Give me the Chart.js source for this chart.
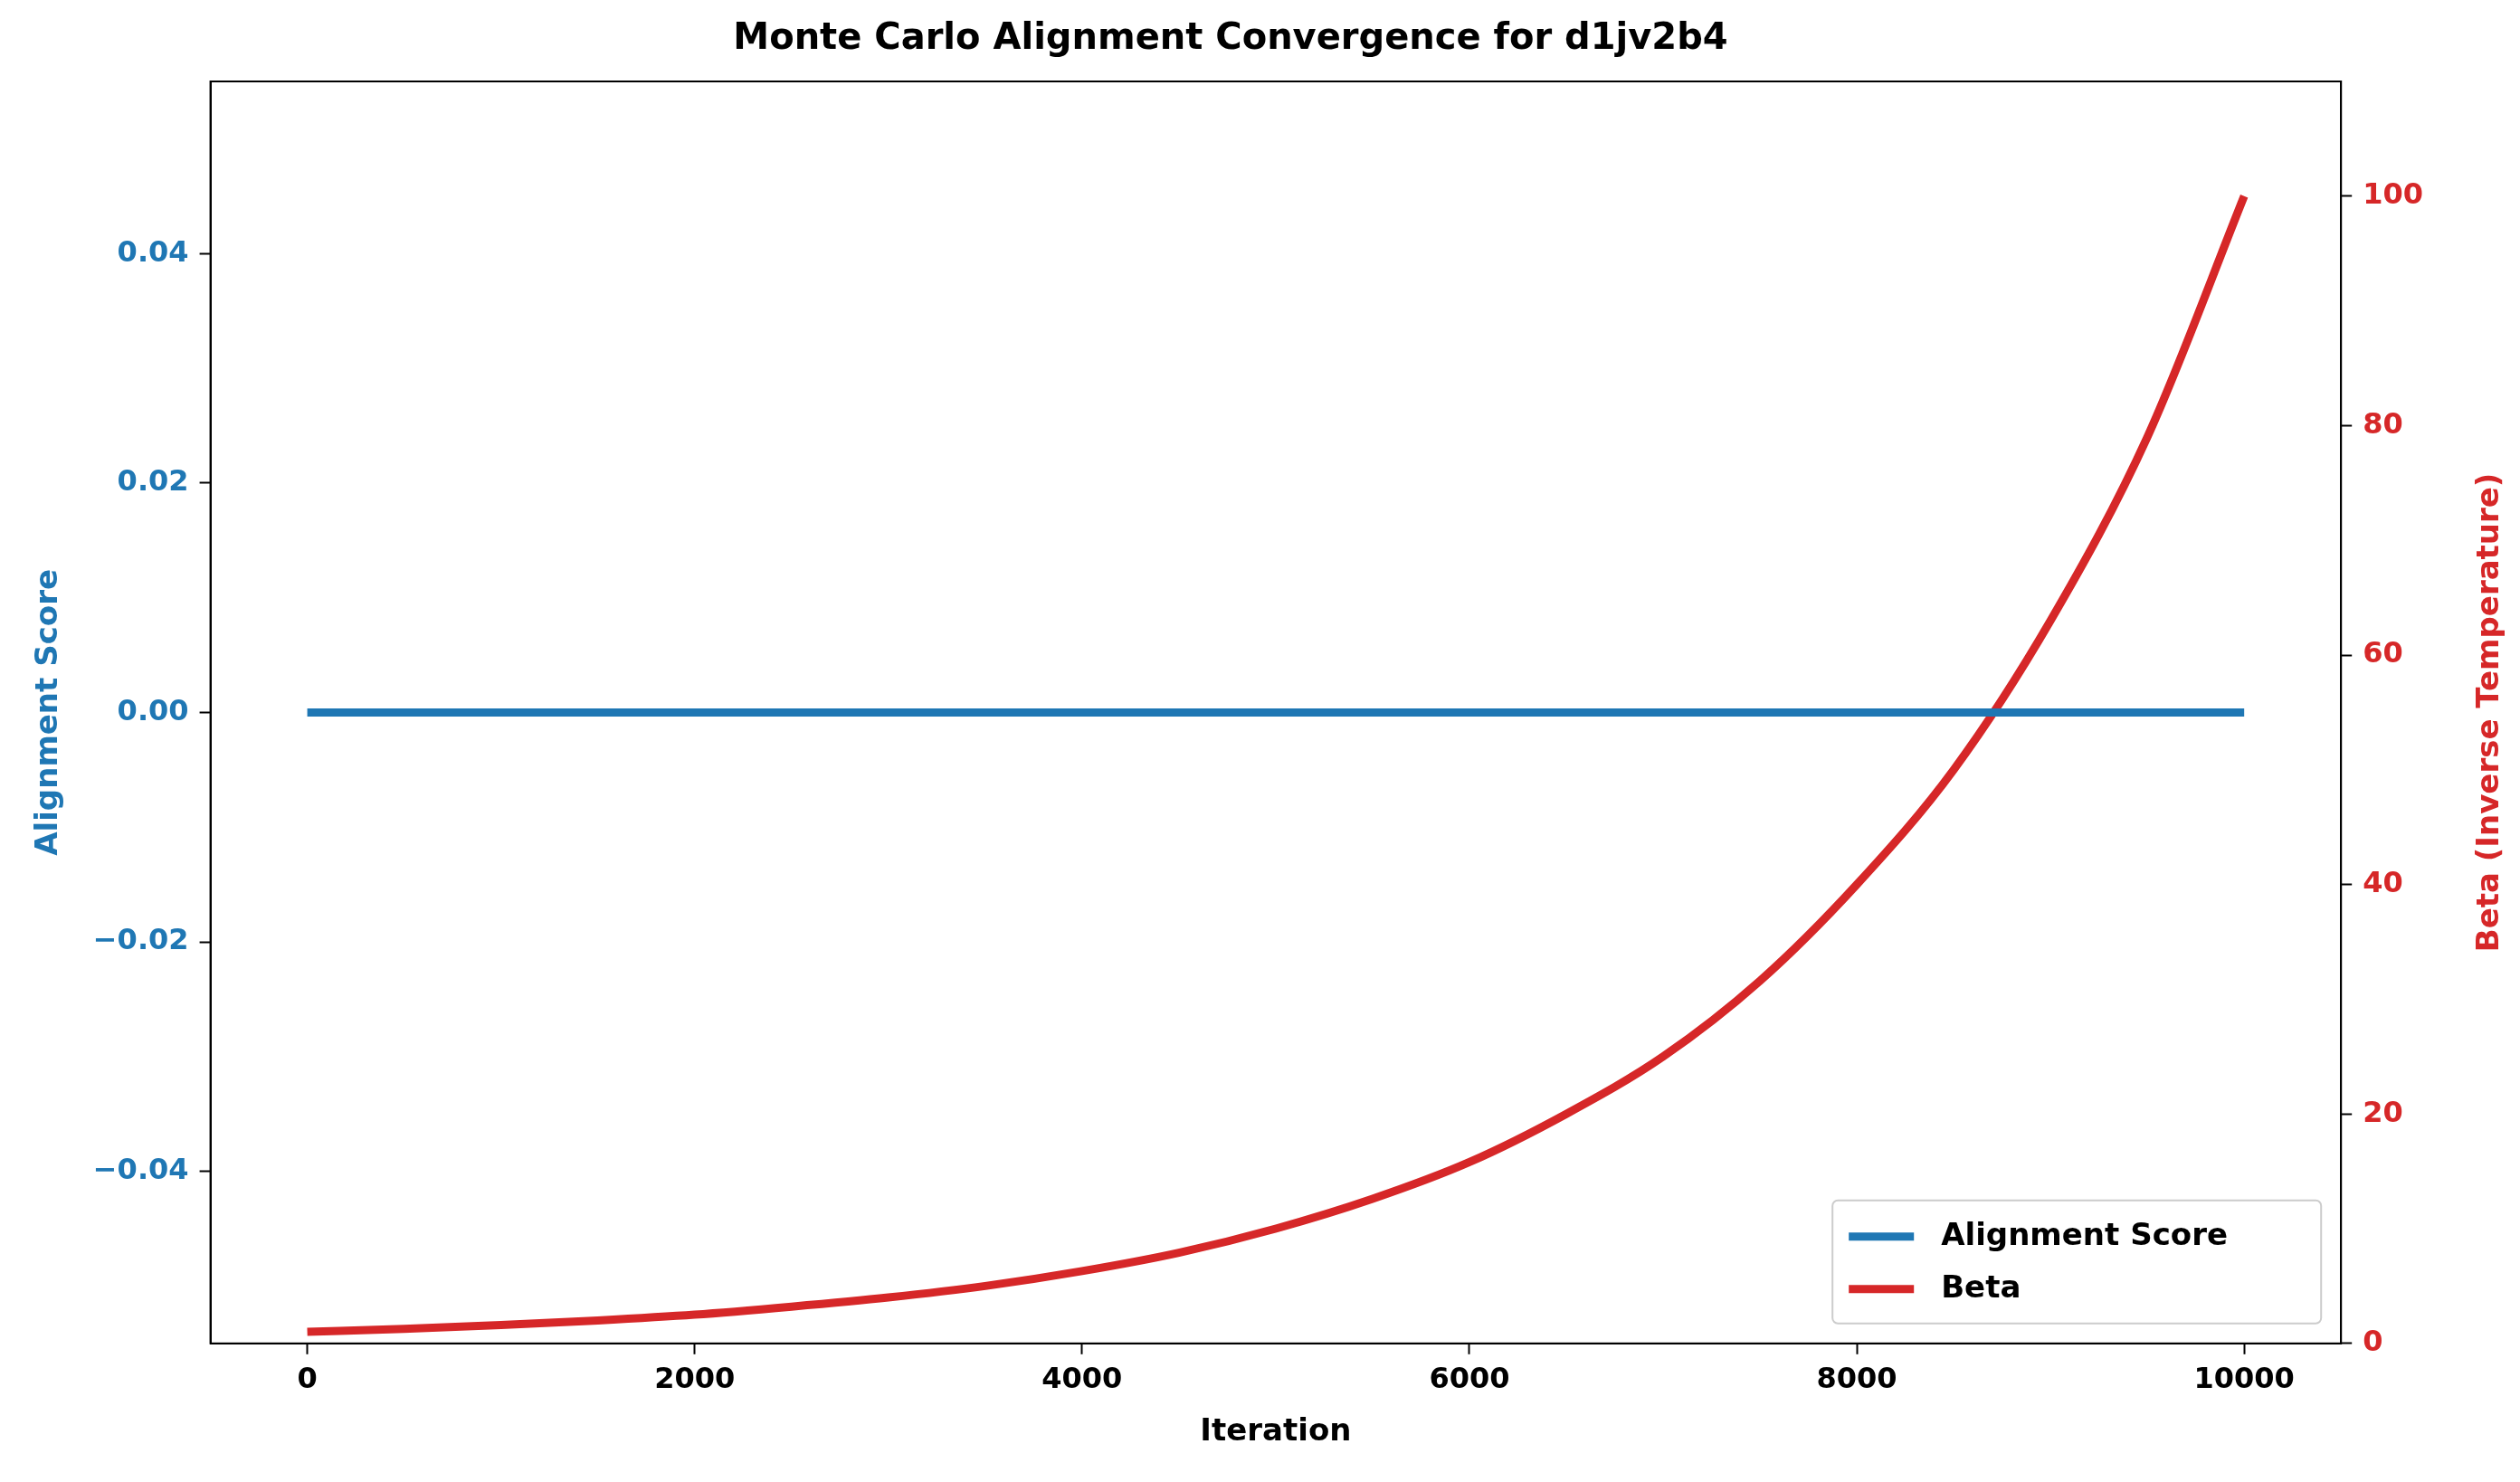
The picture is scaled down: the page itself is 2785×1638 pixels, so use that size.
<!DOCTYPE html>
<html>
<head>
<meta charset="utf-8">
<script src="https://cdn.jsdelivr.net/npm/chart.js@4"></script>
<style>body{margin:0;background:#fff}</style>
</head>
<body>
<canvas id="c" width="2785" height="1638"></canvas>
<script>
const iterations = [0, 500, 1000, 1500, 2000, 2500, 3000, 3500, 4000, 4500, 5000, 5500, 6000, 6500, 7000, 7500, 8000, 8500, 9000, 9500, 10000];
const alignmentScore = [0, 0, 0, 0, 0, 0, 0, 0, 0, 0, 0, 0, 0, 0, 0, 0, 0, 0, 0, 0, 0];
const beta = [1, 1.26, 1.6, 2, 2.5, 3.2, 4, 5, 6.3, 7.9, 10, 12.6, 15.8, 20, 25, 31.6, 40, 50, 63, 79, 100];
const xTicks = [0, 2000, 4000, 6000, 8000, 10000];
const leftTicks = [-0.04, -0.02, 0, 0.02, 0.04];
const rightTicks = [0, 20, 40, 60, 80, 100];

const BLUE = '#1f77b4', RED = '#d62728';
const font = { family: 'DejaVu Sans', size: 32, weight: 'bold' };
const minus = s => s.replace('-', '\u2212');

// frame box, right axis title (reads upward) and legend in lower right
const extras = {
  id: 'extras',
  afterDatasetsDraw(chart) {
    const { ctx, chartArea: a } = chart;
    ctx.save();
    ctx.strokeStyle = '#000'; ctx.lineWidth = 2;
    ctx.strokeRect(a.left, a.top, a.right - a.left, a.bottom - a.top);

    ctx.save();
    ctx.translate(2752, (a.top + a.bottom) / 2);
    ctx.rotate(-Math.PI / 2);
    ctx.fillStyle = RED; ctx.font = 'bold 34px "DejaVu Sans"';
    ctx.textAlign = 'center'; ctx.textBaseline = 'middle';
    ctx.fillText('Beta (Inverse Temperature)', 0, 0);
    ctx.restore();

    const w = 540, h = 136, x = a.right - w - 22, y = a.bottom - h - 22;
    ctx.fillStyle = 'rgba(255,255,255,0.8)'; ctx.strokeStyle = '#ccc';
    ctx.beginPath(); ctx.roundRect(x, y, w, h, 6); ctx.fill(); ctx.stroke();
    ctx.font = 'bold 34px "DejaVu Sans"'; ctx.textBaseline = 'middle';
    chart.data.datasets.forEach((d, i) => {
      const yy = y + 40 + i * 58;
      ctx.strokeStyle = d.borderColor; ctx.lineWidth = 9;
      ctx.beginPath(); ctx.moveTo(x + 18, yy); ctx.lineTo(x + 90, yy); ctx.stroke();
      ctx.fillStyle = '#000'; ctx.fillText(d.label, x + 120, yy);
    });
    ctx.restore();
  }
};

new Chart(document.getElementById('c'), {
  type: 'line',
  data: {
    labels: iterations,
    datasets: [
      { label: 'Alignment Score', data: alignmentScore, borderColor: BLUE, borderWidth: 9, pointRadius: 0, yAxisID: 'y' },
      { label: 'Beta', data: beta, borderColor: RED, borderWidth: 9, pointRadius: 0, yAxisID: 'y1', cubicInterpolationMode: 'monotone' }
    ]
  },
  options: {
    responsive: false, animation: false,
    layout: { padding: { left: 30, right: 95, top: 10, bottom: 30 } },
    plugins: {
      legend: { display: false },
      title: { display: true, text: 'Monte Carlo Alignment Convergence for d1jv2b4', color: '#000', font: { family: 'DejaVu Sans', size: 40, weight: 'bold' }, padding: { top: 10, bottom: 22 } }
    },
    scales: {
      x: {
        type: 'linear', min: -500, max: 10500,
        afterBuildTicks: s => { s.ticks = xTicks.map(v => ({ value: v })); },
        ticks: { color: '#000', font, padding: 10, callback: v => String(v) },
        grid: { drawOnChartArea: false, tickLength: 12, color: '#000', tickWidth: 2 },
        border: { color: '#000', width: 2 },
        title: { display: true, text: 'Iteration', color: '#000', font: { ...font, size: 34 }, padding: { top: 8 } }
      },
      y: {
        position: 'left', min: -0.055, max: 0.055,
        afterBuildTicks: s => { s.ticks = leftTicks.map(v => ({ value: v })); },
        ticks: { color: BLUE, font, padding: 12, callback: v => minus(v.toFixed(2)) },
        grid: { drawOnChartArea: false, tickLength: 12, color: '#000', tickWidth: 2 },
        border: { color: '#000', width: 2 },
        title: { display: true, text: 'Alignment Score', color: BLUE, font: { ...font, size: 34 }, padding: { bottom: 16 } }
      },
      y1: {
        position: 'right', min: 0, max: 110,
        afterBuildTicks: s => { s.ticks = rightTicks.map(v => ({ value: v })); },
        ticks: { color: RED, font, padding: 12 },
        grid: { drawOnChartArea: false, tickLength: 12, color: '#000', tickWidth: 2 },
        border: { color: '#000', width: 2 }
      }
    }
  },
  plugins: [extras]
});
</script>
</body>
</html>
